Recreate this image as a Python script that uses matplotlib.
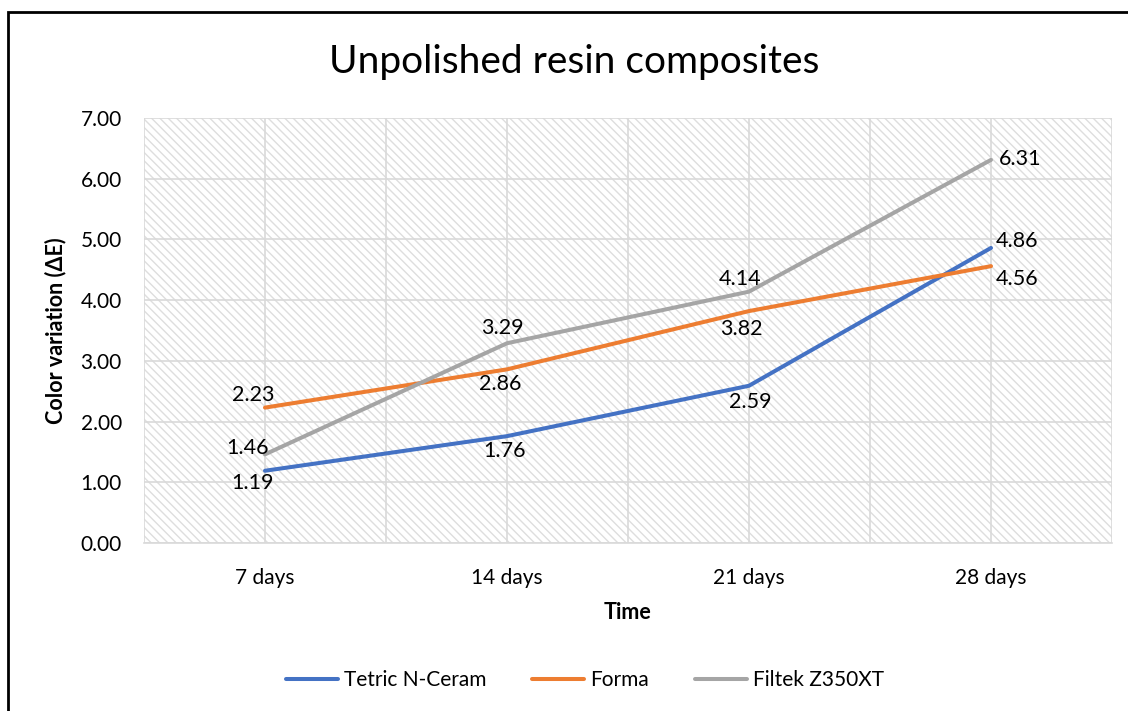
import matplotlib
matplotlib.use("Agg")
import matplotlib.pyplot as plt
from matplotlib.patches import Rectangle

plt.rcParams['font.family'] = ['Lato', 'DejaVu Sans']
plt.rcParams['hatch.linewidth'] = 1.0

# data
days = ['7 days', '14 days', '21 days', '28 days']
tetric = [1.19, 1.76, 2.59, 4.86]
forma = [2.23, 2.86, 3.82, 4.56]
filtek = [1.46, 3.29, 4.14, 6.31]

# label offsets (pixels) per series
off_tetric = [(-12, -12), (-2, -15), (1, -16), (26, 7)]
off_forma = [(-12, 13), (-7, -15), (-8, -18), (26, -13)]
off_filtek = [(-17, 6), (-5, 15), (-9, 13), (29, 1)]

fig = plt.figure(figsize=(11.28, 7.11), dpi=100)
ax = fig.add_axes([144/1128, 168/711, 968/1128, 425/711])

# outer frame (cut by the image edge)
fig.patches.append(Rectangle((8/1128, -0.1), 2, 1.1 - 12/711, transform=fig.transFigure,
                             fill=False, edgecolor='black', linewidth=2))

# hatched plot area
ax.add_patch(Rectangle((0, 0), 1, 1, transform=ax.transAxes, facecolor='white',
                       edgecolor='#dedede', hatch='\\\\\\\\', linewidth=0, zorder=0))

x = list(range(len(days)))
series = [(tetric, '#4472C4', 'Tetric N-Ceram', off_tetric),
          (forma, '#ED7D31', 'Forma', off_forma),
          (filtek, '#A5A5A5', 'Filtek Z350XT', off_filtek)]
for vals, col, name, offs in series:
    ax.plot(x, vals, color=col, lw=2.9, label=name, zorder=3, solid_capstyle='round')
    for xi, v, o in zip(x, vals, offs):
        ax.annotate(f'{v:.2f}', (xi, v), xytext=o, textcoords='offset pixels',
                    ha='center', va='center', fontsize=15.5, zorder=4)

ax.set_xlim(-0.5, 3.5)
ax.set_ylim(0, 7)
ax.set_yticks(range(8))
ax.set_yticklabels([f'{v:.2f}' for v in range(8)])
ax.set_xticks(x)
ax.set_xticklabels(days)
ax.set_xticks([i - 0.5 for i in range(5)], minor=True)
ax.tick_params(which='both', length=0, labelsize=15)
ax.tick_params(axis='y', pad=16)
ax.tick_params(axis='x', pad=18)
ax.grid(True, which='both', color='#d9d9d9', lw=1.2, zorder=1)
ax.set_axisbelow(True)
for s in ['top', 'right', 'left']:
    ax.spines[s].set_visible(False)
ax.spines['bottom'].set_color('#d9d9d9')
ax.spines['bottom'].set_linewidth(1.2)

ax.set_xlabel('Time', fontsize=15.5, fontweight='bold', labelpad=10)
ax.set_ylabel('Color variation (ΔE)', fontsize=15.5, fontweight='bold', labelpad=10)
fig.text(574/1128, 1 - 62/711, 'Unpolished resin composites', ha='center', va='center', fontsize=28)

fig.legend(loc='center', bbox_to_anchor=(585/1128, 1 - 680/711), ncol=3, frameon=False,
           fontsize=15, handlelength=2.5, columnspacing=2.2, handletextpad=0.3)

fig.savefig('out.png', dpi=100)
